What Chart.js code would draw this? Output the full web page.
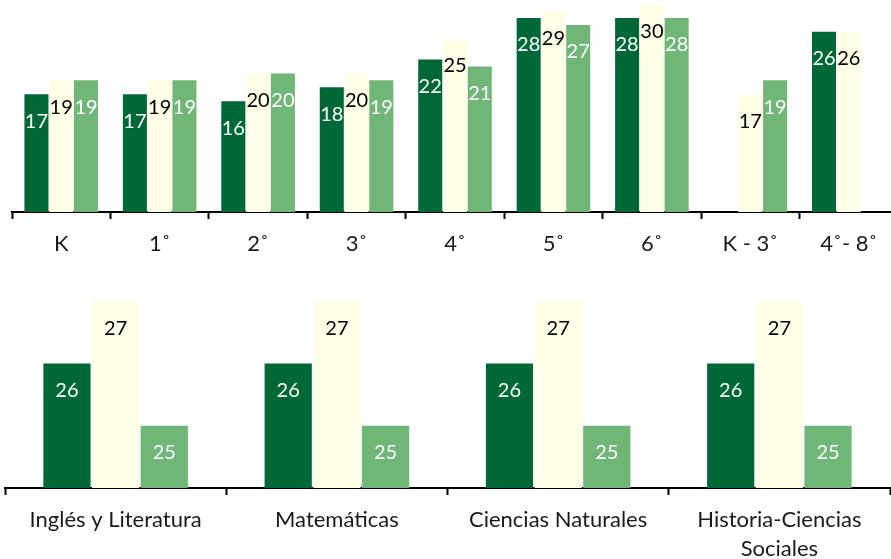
<!DOCTYPE html>
<html>
<head>
<meta charset="utf-8">
<script src="https://cdn.jsdelivr.net/npm/chart.js@4"></script>
<style>
  html, body { margin: 0; padding: 0; background: #fff; overflow: hidden; width: 891px; height: 559px; }
  #gradosChart { position: absolute; left: 0; top: 0; }
  #materiasChart { position: absolute; left: 0; top: 239px; }
</style>
</head>
<body>
<canvas id="gradosChart" width="900" height="270"></canvas>
<canvas id="materiasChart" width="891" height="320"></canvas>
<script>
// datos del gráfico superior (por grado)
const grados = ["K", "1˚", "2˚", "3˚", "4˚", "5˚", "6˚", "K - 3˚", "4˚- 8˚"];
const serieOscura = [17, 17, 16, 18, 22, 28, 28, null, 26];
const serieCrema = [19, 19, 20, 20, 25, 29, 30, 17, 26];
const serieClara = [19, 19, 20, 19, 21, 27, 28, 19, null];

// datos del gráfico inferior (por materia)
const materias = ["Inglés y Literatura", "Matemáticas", "Ciencias Naturales", ["Historia-Ciencias", "Sociales"]];
const materiaOscura = [26, 26, 26, 26];
const materiaCrema = [27, 27, 27, 27];
const materiaClara = [25, 25, 25, 25];

const verdeOscuro = "#006837";
const crema = "#FFFEE6";
const verdeClaro = "#70B777";
const fuente = "Lato, 'Open Sans', sans-serif";

// etiquetas dentro de las barras, un poco debajo del extremo
const etiquetasBarras = {
  id: "etiquetasBarras",
  afterDatasetsDraw(chart) {
    const ctx = chart.ctx;
    ctx.save();
    ctx.font = "20px " + fuente;
    ctx.textAlign = "center";
    ctx.textBaseline = "middle";
    chart.data.datasets.forEach((ds, i) => {
      const meta = chart.getDatasetMeta(i);
      meta.data.forEach((bar, j) => {
        const v = ds.data[j];
        if (v === null || v === undefined) return;
        ctx.fillStyle = ds.labelColor;
        ctx.fillText(String(v), bar.x, bar.y + 27);
      });
    });
    ctx.restore();
  }
};

function ejeX(alto) {
  return {
    offset: true,
    grid: {
      offset: true,
      drawOnChartArea: false,
      drawTicks: true,
      tickLength: 7,
      tickWidth: 2,
      tickColor: "#000"
    },
    border: { display: true, color: "#000", width: 2 },
    ticks: {
      color: "#1a1a1a",
      font: { family: fuente, size: 22, lineHeight: 1.32 },
      padding: 10,
      maxRotation: 0,
      autoSkip: false
    },
    afterFit(scale) { scale.height = alto; }
  };
}

function crearGrafico(id, labels, a, b, c, opts) {
  return new Chart(document.getElementById(id).getContext("2d"), {
    type: "bar",
    data: {
      labels,
      datasets: [
        { data: a, backgroundColor: verdeOscuro, labelColor: "#fff" },
        { data: b, backgroundColor: crema, labelColor: "#000" },
        { data: c, backgroundColor: verdeClaro, labelColor: "#fff" }
      ]
    },
    options: {
      responsive: false,
      animation: false,
      layout: { padding: opts.padding },
      datasets: {
        bar: {
          categoryPercentage: opts.catPct,
          barPercentage: 0.97,
          skipNull: false
        }
      },
      plugins: {
        legend: { display: false },
        tooltip: { enabled: false }
      },
      scales: {
        x: ejeX(opts.altoEje),
        y: { display: false, min: opts.min, max: opts.max }
      }
    },
    plugins: [etiquetasBarras]
  });
}

crearGrafico("gradosChart", grados, serieOscura, serieCrema, serieClara, {
  padding: { left: 12, right: 2, top: 0, bottom: 0 },
  altoEje: 58,
  catPct: 0.755,
  min: 0,
  max: 30.6
});

crearGrafico("materiasChart", materias, materiaOscura, materiaCrema, materiaClara, {
  padding: { left: 5, right: 1, top: 0, bottom: 0 },
  altoEje: 71,
  catPct: 0.66,
  min: 24,
  max: 28
});
</script>
</body>
</html>
